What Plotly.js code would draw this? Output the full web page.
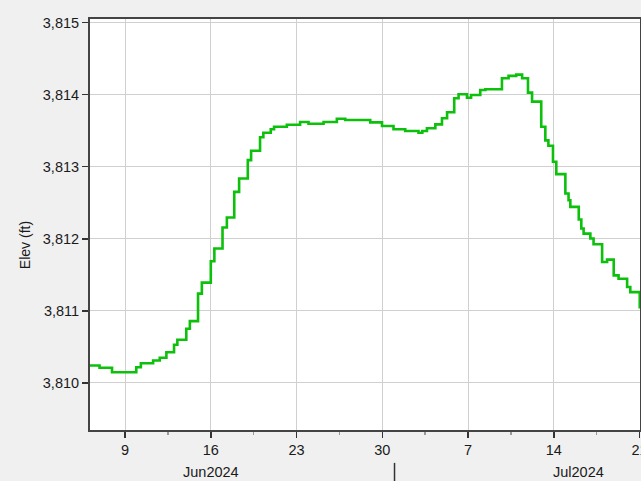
<!DOCTYPE html>
<html>
<head>
<meta charset="utf-8">
<script src="https://cdn.plot.ly/plotly-3.0.1.min.js"></script>
<style>
html,body{margin:0;padding:0;background:#f0f0f0;}
#chart{width:641px;height:481px;}
</style>
</head>
<body>
<div id="chart"></div>
<script>
// Step-series of reservoir elevation (ft)
const times = [
  '2024-06-06 00:00','2024-06-06 22:00','2024-06-07 22:30','2024-06-09 22:00','2024-06-10 07:00',
  '2024-06-11 07:00','2024-06-11 20:00','2024-06-12 09:00','2024-06-13 00:00','2024-06-13 06:30',
  '2024-06-14 00:00','2024-06-14 07:00','2024-06-14 23:00','2024-06-15 06:30','2024-06-16 00:00',
  '2024-06-16 07:00','2024-06-16 23:00','2024-06-17 07:30','2024-06-17 22:00','2024-06-18 07:30',
  '2024-06-19 00:30','2024-06-19 07:00','2024-06-20 00:30','2024-06-20 07:00','2024-06-20 21:30',
  '2024-06-21 04:00','2024-06-22 05:00','2024-06-23 07:00','2024-06-23 23:30','2024-06-25 05:00',
  '2024-06-26 07:00','2024-06-26 23:30','2024-06-29 00:30','2024-06-29 23:30','2024-06-30 22:00',
  '2024-07-01 21:00','2024-07-02 23:00','2024-07-03 06:30','2024-07-03 15:30','2024-07-04 08:00',
  '2024-07-04 21:00','2024-07-05 07:00','2024-07-05 21:00','2024-07-06 05:30','2024-07-06 22:00',
  '2024-07-07 06:00','2024-07-08 00:00','2024-07-08 10:00','2024-07-09 18:30','2024-07-10 07:30',
  '2024-07-10 22:30','2024-07-11 10:00','2024-07-11 21:30','2024-07-12 05:30','2024-07-12 23:30',
  '2024-07-13 07:30','2024-07-13 13:30','2024-07-13 22:30','2024-07-14 05:00','2024-07-14 22:45',
  '2024-07-15 05:00','2024-07-15 08:30','2024-07-16 01:00','2024-07-16 06:00','2024-07-16 10:30',
  '2024-07-16 23:45','2024-07-17 06:00','2024-07-17 22:45','2024-07-18 08:30','2024-07-18 21:30',
  '2024-07-19 07:00','2024-07-19 23:45','2024-07-20 06:00','2024-07-21 00:30','2024-07-21 06:00'
];
const elev = [
  3810.241,3810.209,3810.147,3810.217,3810.273,
  3810.310,3810.348,3810.426,3810.529,3810.598,
  3810.751,3810.857,3811.238,3811.391,3811.687,
  3811.864,3812.156,3812.295,3812.651,3812.837,
  3813.092,3813.221,3813.408,3813.471,3813.519,
  3813.555,3813.582,3813.620,3813.597,3813.620,
  3813.666,3813.648,3813.616,3813.565,3813.519,
  3813.495,3813.471,3813.495,3813.533,3813.588,
  3813.672,3813.755,3813.950,3814.006,3813.958,
  3813.996,3814.065,3814.075,3814.228,3814.260,
  3814.278,3814.228,3814.028,3813.903,3813.555,
  3813.366,3813.290,3813.068,3812.897,3812.629,
  3812.535,3812.442,3812.267,3812.142,3812.072,
  3812.003,3811.923,3811.677,3811.711,3811.492,
  3811.446,3811.330,3811.260,3811.051,3811.051
];
const xTickVals = ['2024-06-09','2024-06-16','2024-06-23','2024-06-30','2024-07-07','2024-07-14','2024-07-21'];
const xTickText = ['9','16','23','30','7','14','21'];
const xMinorVals = ['2024-06-05 12:00','2024-06-12 12:00','2024-06-19 12:00','2024-06-26 12:00','2024-07-03 12:00','2024-07-10 12:00','2024-07-17 12:00'];
const yTickVals = [3810,3811,3812,3813,3814,3815];
const monthLabels = ['Jun2024','Jul2024'];
const monthLabelPos = ['2024-06-16','2024-07-16'];
const monthBreak = '2024-07-01';

const font = {family:'"Liberation Sans", Arial, sans-serif', size:14.5, color:'#1a1a1a'};

const trace = {
  x: times, y: elev, type:'scatter', mode:'lines',
  line:{shape:'hv', color:'#0cc00c', width:2.6},
  hoverinfo:'skip'
};

const annotations = monthLabels.map((t,i)=>({
  text:t, x:monthLabelPos[i], xref:'x', y:-0.102, yref:'paper',
  showarrow:false, font:font, xanchor:'center', yanchor:'middle'
}));
annotations.push({
  text:'Elev (ft)', textangle:-90, x:-0.118, xref:'paper', y:0.45, yref:'paper',
  showarrow:false, font:{family:font.family, size:14, color:'#1a1a1a'}, xanchor:'center', yanchor:'middle'
});

const layout = {
  width:641, height:481,
  margin:{l:90, r:1, t:19, b:51},
  paper_bgcolor:'#f0f0f0', plot_bgcolor:'#ffffff',
  showlegend:false,
  font:font,
  xaxis:{
    type:'date',
    range:['2024-06-06 03:20','2024-07-21 01:00'],
    tickmode:'array', tickvals:xTickVals, ticktext:xTickText,
    ticks:'outside', ticklen:6, tickwidth:1.5, tickcolor:'#333',
    ticklabeloverflow:'allow',
    showgrid:true, gridcolor:'#d0d0d0', gridwidth:1,
    showline:true, mirror:true, linecolor:'#444', linewidth:2,
    zeroline:false, tickfont:font,
    minor:{tickmode:'array', tickvals:xMinorVals, ticks:'outside', ticklen:3, tickcolor:'#999', showgrid:false},
    automargin:false
  },
  yaxis:{
    range:[3809.346, 3815.05],
    tickmode:'array', tickvals:yTickVals, tickformat:',d',
    ticks:'outside', ticklen:6, tickwidth:1.5, tickcolor:'#333',
    showgrid:true, gridcolor:'#d0d0d0', gridwidth:1,
    showline:true, mirror:true, linecolor:'#444', linewidth:2,
    zeroline:false, tickfont:font,
    automargin:false
  },
  annotations:annotations,
  shapes:[{
    type:'line', xref:'x', yref:'paper', x0:monthBreak, x1:monthBreak, y0:-0.08, y1:-0.125,
    line:{color:'#333', width:1.5}
  }]
};

Plotly.newPlot('chart',[trace],layout,{displayModeBar:false, staticPlot:true});
</script>
</body>
</html>
